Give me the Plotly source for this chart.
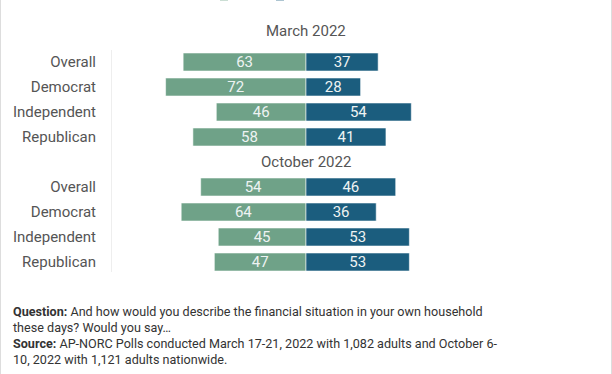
import plotly.graph_objects as go

groups = ["March 2022", "October 2022"]
categories = ["Overall", "Democrat", "Independent", "Republican"]
good_march = [63, 72, 46, 58]
bad_march = [37, 28, 54, 41]
good_october = [54, 64, 45, 47]
bad_october = [46, 36, 53, 53]
legend_names = ["Good", "Bad"]

GREEN = "#6fa288"
BLUE = "#1b5d7e"
GRAY = "#555555"
FONT = "Roboto"

W, H = 612, 374
L, R, T, B = 111, 111, 40, 102
PW, PH = W - L - R, H - T - B

# row positions (March rows 0-3, October title row 4, October rows 5-8)
ypos_march = [0, 1, 2, 3]
ypos_oct = [5, 6, 7, 8]
yvals = ypos_march + ypos_oct
ylabels = categories + categories
good = good_march + good_october
bad = bad_march + bad_october

y_top = -0.88
y_bot = 8.4


def px2paper_x(px):
    return (px - L) / PW


def px2paper_y(py):
    return 1 - (py - T) / PH


def val2py(v):
    return T + (v - y_top) * PH / (y_bot - y_top)


fig = go.Figure()
fig.add_trace(go.Bar(
    y=yvals, x=[-v for v in good], orientation="h", name=legend_names[0],
    marker=dict(color=GREEN, line=dict(color="rgba(255,255,255,0.55)", width=1)),
    text=[str(v) for v in good], textposition="inside", insidetextanchor="middle",
    textangle=0, constraintext="none", textfont=dict(color="#eef3f3", size=15, family=FONT),
    width=0.72, hoverinfo="skip", showlegend=False,
))
fig.add_trace(go.Bar(
    y=yvals, x=bad, orientation="h", name=legend_names[1],
    marker=dict(color=BLUE, line=dict(color="rgba(255,255,255,0.55)", width=1)),
    text=[str(v) for v in bad], textposition="inside", insidetextanchor="middle",
    textangle=0, constraintext="none", textfont=dict(color="#eef3f3", size=15, family=FONT),
    width=0.72, hoverinfo="skip", showlegend=False,
))

fig.update_layout(
    width=W, height=H, barmode="relative",
    margin=dict(l=L, r=R, t=T, b=B, autoexpand=False),
    paper_bgcolor="white", plot_bgcolor="white",
    font=dict(family=FONT, color=GRAY, size=15),
    xaxis=dict(range=[-100, 100], visible=False, fixedrange=True),
    yaxis=dict(range=[y_bot, y_top], tickvals=yvals, ticktext=ylabels,
               showgrid=False, zeroline=False, showline=False, fixedrange=True,
               ticks="", ticklabelstandoff=14, tickfont=dict(size=15, color=GRAY)),
)

# legend (mostly above the visible area, as in the reference)
leg_swatch_px = [220, 276]
for name, col, sx in zip(legend_names, [GREEN, BLUE], leg_swatch_px):
    fig.add_shape(type="rect", xref="paper", yref="paper",
                  x0=px2paper_x(sx), x1=px2paper_x(sx + 8),
                  y0=px2paper_y(0.8), y1=px2paper_y(-9),
                  fillcolor=col, opacity=0.45, line=dict(width=0))
    fig.add_annotation(xref="paper", yref="paper", x=px2paper_x(sx + 12), y=px2paper_y(-5),
                       text=name, showarrow=False, xanchor="left", yanchor="middle",
                       font=dict(size=15, color=GRAY))

# group titles
title_px = [31, val2py(4)]
for g, py in zip(groups, title_px):
    fig.add_annotation(x=0, y=px2paper_y(py), xref="x", yref="paper", text=g, showarrow=False,
                       font=dict(size=15, color=GRAY), xanchor="center", yanchor="middle")

# vertical divider line
fig.add_shape(type="line", xref="x", yref="y", x0=-100, x1=-100, y0=-0.48, y1=y_bot,
              line=dict(color="#dddddd", width=1))

# outer border lines
fig.add_shape(type="line", xref="paper", yref="paper", x0=px2paper_x(0.5), x1=px2paper_x(0.5),
              y0=px2paper_y(H), y1=px2paper_y(0), line=dict(color="#dddddd", width=1))
fig.add_shape(type="line", xref="paper", yref="paper", x0=px2paper_x(611.5), x1=px2paper_x(611.5),
              y0=px2paper_y(H), y1=px2paper_y(0), line=dict(color="#dddddd", width=1))

# footnote
foot_lines = [
    "<b>Question:</b> And how would you describe the financial situation in your own household",
    "these days? Would you say…",
    "<b>Source:</b> AP-NORC Polls conducted March 17-21, 2022 with 1,082 adults and October 6-",
    "10, 2022 with 1,121 adults nationwide.",
]
foot_px = [311, 327, 343, 359]
for line, py in zip(foot_lines, foot_px):
    fig.add_annotation(xref="paper", yref="paper", x=px2paper_x(11), y=px2paper_y(py),
                       text=line, showarrow=False, xanchor="left", yanchor="middle",
                       font=dict(size=12.6, color="#333333"))

fig.write_html("out.html", config={"displayModeBar": False},
               post_script="document.body.style.margin='0';")
